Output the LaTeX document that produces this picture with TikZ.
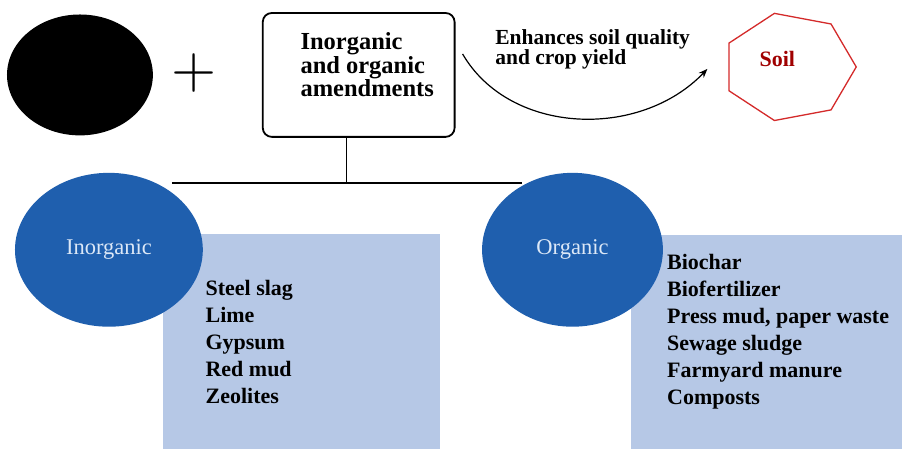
\documentclass[tikz,border=0pt]{standalone}
\usepackage{fontspec}
\setmainfont{Liberation Serif}
\newfontfamily\plusfont{lmroman10-regular.otf}
\usepackage{tikz}
\usetikzlibrary{shapes.geometric,arrows.meta}

\definecolor{ellblue}{HTML}{1F5FAE}
\definecolor{boxblue}{HTML}{B6C8E6}
\definecolor{labblue}{HTML}{DCE8F7}
\definecolor{soilred}{HTML}{D42A2A}
\definecolor{soiltext}{HTML}{A00000}

\tikzset{
  catell/.style={shape=ellipse, fill=ellblue, text=labblue, inner sep=0pt,
    minimum width=188pt, minimum height=154pt, font=\fontsize{22.5}{24}\selectfont},
  listbg/.style={fill=boxblue, anchor=north west, inner sep=0pt},
  listtext/.style={anchor=north west, align=left, inner sep=0pt,
    font=\fontsize{22}{27}\selectfont\bfseries},
}

\begin{document}
\begin{tikzpicture}[x=1pt, y=-1pt, line width=1.6pt]
        \fill[white] (0,0) rectangle (902,452);
        % top row
        \node[shape=ellipse, fill=black, minimum width=146pt, minimum height=121pt] (blob) at (80,75) {};
        \node[font=\plusfont\fontsize{58}{58}\selectfont, inner sep=0pt] (plus) at (194,73) {+};
        \node[draw, rounded corners=9pt, minimum width=192pt, minimum height=124pt, line width=1.8pt] (amend) at (359,75) {};
        \node[anchor=north west, align=left, inner sep=0pt, font=\fontsize{24.5}{22}\selectfont\bfseries] (amendtxt) at (300,32) {Inorganic\\and organic\\amendments};
        \node[anchor=north west, align=left, inner sep=0pt, font=\fontsize{21.5}{20}\selectfont\bfseries] (enhtxt) at (495,29) {Enhances soil quality\\and crop yield};
        \node[font=\fontsize{22}{22}\selectfont\bfseries, text=soiltext, inner sep=0pt] (soil) at (778,59) {Soil};
        \coordinate (soilc) at (790,67);
        \draw[soilred, line width=1.3pt, shift={(soilc)}] (0:67 and 55) \foreach \k in {1,...,6}{ -- (\k*360/7:67 and 55)} -- cycle;
        \coordinate (enhS) at (463,54);
        \coordinate (enhE) at (708,69);
        \draw[-{Stealth[length=9pt,width=7pt]}, line width=1.2pt] (enhS) .. controls (510,135) and (640,140) .. (enhE);
        % branches
        \coordinate (jn) at (347,183);
        \coordinate (brL) at (172,183);
        \coordinate (brR) at (522,183);
        \draw (amend.south -| jn) -- (jn);
        \draw (brL) -- (brR);
        % lists
        \node[listbg, minimum width=278pt, minimum height=216pt] (inbg) at (162,233) {};
        \node[listbg, minimum width=271pt, minimum height=215pt] (orgbg) at (631,234) {};
        \node[catell] (inorg) at (109,250) {Inorganic};
        \node[catell, minimum width=181pt] (org) at (573,250) {Organic};
        \node[listtext] (inlist) at (205,280) {Steel slag\\Lime\\Gypsum\\Red mud\\Zeolites};
        \node[listtext] (orglist) at (667,254) {Biochar\\Biofertilizer\\Press mud, paper waste\\Sewage sludge\\Farmyard manure\\Composts};
\end{tikzpicture}
\end{document}
